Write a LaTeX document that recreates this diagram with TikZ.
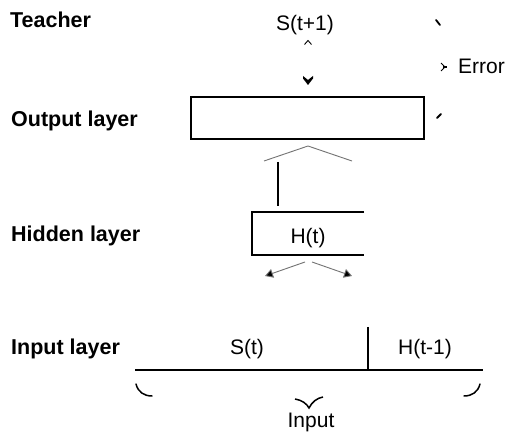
\documentclass[tikz,border=0pt]{standalone}
\usepackage{fontspec}
\setmainfont{Liberation Sans}
\usetikzlibrary{arrows.meta}
\begin{document}
\begin{tikzpicture}[x=1pt,y=-1pt,
  lbl/.style={font=\fontsize{21.5}{25}\selectfont\bfseries,inner sep=0pt,anchor=base west},
  txt/.style={font=\fontsize{21}{25}\selectfont,inner sep=0pt,anchor=base},
  thickline/.style={line width=2.2pt,line cap=butt},
  thinline/.style={line width=0.9pt,draw=black!55},
  frag/.style={line width=1.8pt,line cap=round}]
\useasboundingbox[fill=white] (0,0) rectangle (506,438);
% left labels
\node[lbl] (teacher) at (10,28) {Teacher};
\node[lbl] (outl) at (11,127) {Output layer};
\node[lbl] (hidl) at (11,242) {Hidden layer};
\node[lbl] (inl) at (11,354) {Input layer};
% teacher signal
\node[txt] (target) at (305,31) {S(t+1)};
\draw[line width=0.9pt] (304.5,44.5) -- (308,40.5) -- (311.5,44.5);
\fill (303,76) -- (308,80) -- (313,76) -- (313,78.5) -- (308,85) -- (303,78.5) -- cycle;
% output layer
\draw[thickline] (191,97) rectangle (424,139);
% error brace fragments
\draw[frag] (436,20) -- (440,25);
\draw[line width=1pt] (441,63) -- (445,67) -- (441,71);
\draw[line width=1.2pt] (443,67) -- (447,67);
\node[txt,anchor=base west] (err) at (458,74) {Error};
\draw[frag] (437,118) -- (441,114);
% chevron and connection
\draw[thinline] (264,161) -- (308,146) -- (352,161);
\draw[thickline] (278,162) -- (278,206);
% hidden layer
\draw[thickline] (364,212) -- (252,212) -- (252,255) -- (364,255);
\node[txt] (hid) at (308,244) {H(t)};
\draw[thinline,-{Triangle[length=8pt,width=9pt,fill=black]}] (305,262) -- (265,276);
\draw[thinline,-{Triangle[length=8pt,width=9pt,fill=black]}] (312,262) -- (352,276);
% input layer
\draw[thickline] (135,370) -- (483,370);
\draw[thickline] (368,327) -- (368,370);
\node[txt] (st) at (247,354) {S(t)};
\node[txt] (ht1) at (425,354) {H(t-1)};
% brace fragments
\draw[frag,line width=1.5pt] (136,384) .. controls (138,392) and (144,396) .. (152,396);
\draw[frag,line width=1.5pt] (464,396) .. controls (472,396) and (478,392) .. (480,384);
\draw[line width=1.5pt] (295,399) .. controls (302,400) and (307,404) .. (309,408) .. controls (312,402) and (317,398) .. (323,397);
\node[txt] (inp) at (311,427) {Input};
\end{tikzpicture}
\end{document}
